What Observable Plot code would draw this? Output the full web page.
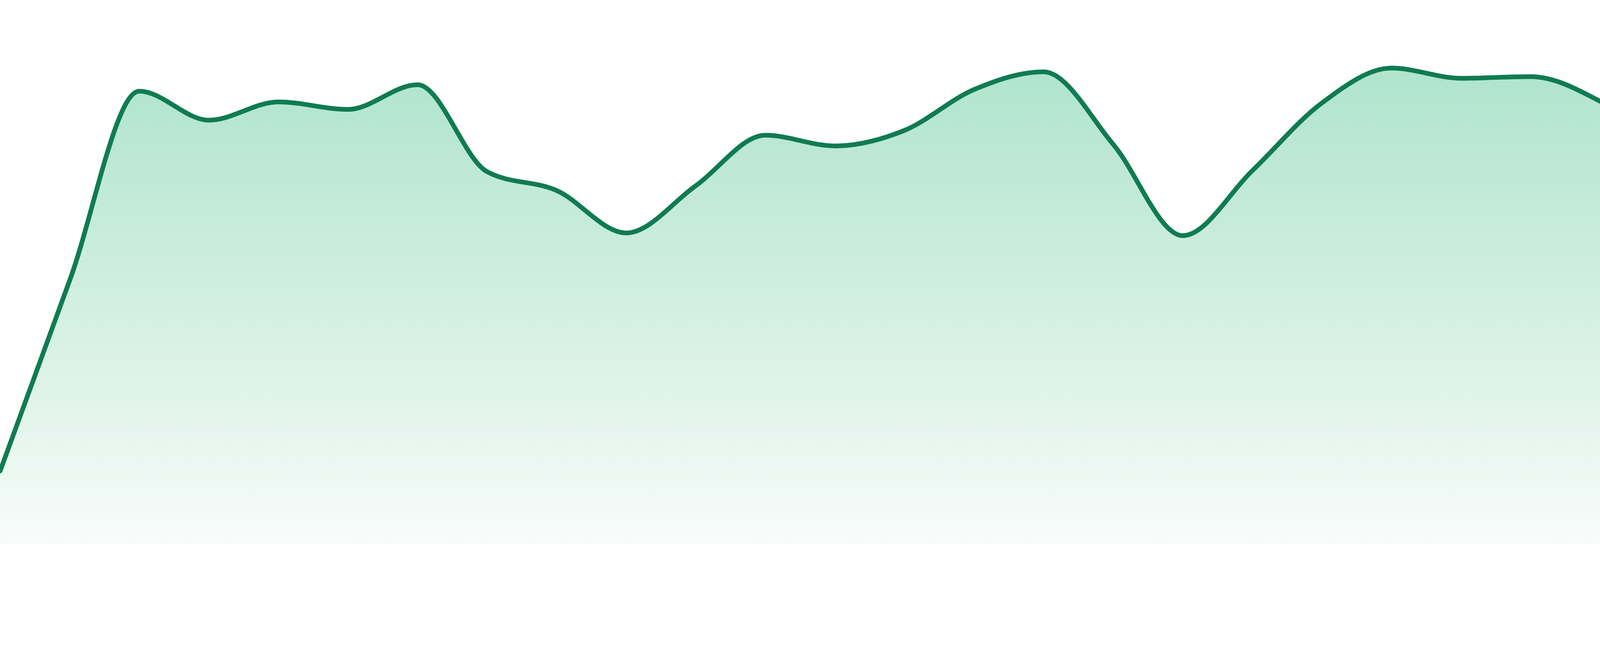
<!DOCTYPE html>
<html>
<head>
<meta charset="utf-8">
<script src="https://cdn.jsdelivr.net/npm/d3@7"></script>
<script src="https://cdn.jsdelivr.net/npm/@observablehq/plot@0.6"></script>
<style>
  html, body { margin: 0; padding: 0; background: #ffffff; }
  #chart svg { display: block; }
</style>
</head>
<body>
<div id="chart"></div>
<script>
// Data points (index along x) and their values
const steps = [0, 1, 2, 3, 4, 5, 6, 7, 8, 9, 10, 11, 12, 13, 14, 15, 16, 17, 18, 19, 20, 21, 22, 23];
const values = [13.6, 49.1, 84.3, 78.9, 82.3, 80.9, 85.5, 69.3, 65.8, 57.9, 66.7, 76.1,
                74.1, 77.0, 84.6, 87.9, 74.4, 57.4, 69.5, 82.1, 88.6, 86.7, 87.0, 82.4];

const data = steps.map((s, i) => ({step: s, value: values[i]}));

const gradientDefs = () => {
  const ns = "http://www.w3.org/2000/svg";
  const defs = document.createElementNS(ns, "defs");
  const lg = document.createElementNS(ns, "linearGradient");
  lg.setAttribute("id", "areaFill");
  lg.setAttribute("x1", "0"); lg.setAttribute("y1", "0");
  lg.setAttribute("x2", "0"); lg.setAttribute("y2", "1");
  [["0%", "#afe4cd"], ["55%", "#d6f0e5"], ["100%", "#f8fcfa"]].forEach(([o, c]) => {
    const s = document.createElementNS(ns, "stop");
    s.setAttribute("offset", o);
    s.setAttribute("stop-color", c);
    lg.appendChild(s);
  });
  defs.appendChild(lg);
  return defs;
};

const chart = Plot.plot({
  width: 4800,
  height: 1680,
  marginLeft: 0,
  marginRight: 0,
  marginTop: 20,
  marginBottom: 48,
  x: {domain: [0, 23], axis: null},
  y: {domain: [0, 100], axis: null},
  marks: [
    gradientDefs,
    Plot.areaY(data, {x: "step", y: "value", curve: "monotone-x", fill: "url(#areaFill)"}),
    Plot.line(data, {x: "step", y: "value", curve: "monotone-x", stroke: "#107b52", strokeWidth: 14, strokeLinecap: "round", strokeLinejoin: "round"})
  ]
});
document.getElementById("chart").appendChild(chart);
</script>
</body>
</html>
